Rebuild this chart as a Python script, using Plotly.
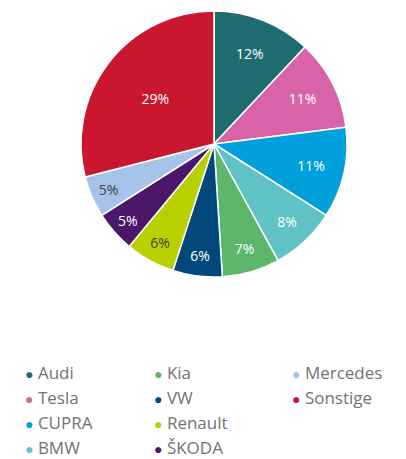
import plotly.graph_objects as go

brands = ["Audi", "Tesla", "CUPRA", "BMW", "Kia", "VW", "Renault", "ŠKODA", "Mercedes", "Sonstige"]
shares = [12, 11, 11, 8, 7, 6, 6, 5, 5, 29]
colors = ["#1f6b72", "#d963a8", "#00a0dc", "#5ec2c6", "#5db76a", "#00497a",
          "#bacf00", "#4b1869", "#a6c4e9", "#c8172f"]
text_colors = ["white", "white", "white", "white", "white", "white",
               "#404040", "white", "#404040", "white"]

legend_cols = [["Audi", "Tesla", "CUPRA", "BMW"],
               ["Kia", "VW", "Renault", "ŠKODA"],
               ["Mercedes", "Sonstige"]]

# page has an 8px body margin; figure is sized to fill the rest of the window
W, H = 398, 451
cx, cy, r = 206, 136, 133

fig = go.Figure()
fig.add_trace(go.Pie(
    labels=brands, values=shares, sort=False, direction="clockwise", rotation=0,
    marker=dict(colors=colors, line=dict(color="white", width=1.5)),
    textinfo="percent", textposition="inside", insidetextorientation="horizontal",
    textfont=dict(family="Open Sans", size=14, color=text_colors),
    showlegend=False, hoverinfo="label+percent",
    domain=dict(x=[(cx - r) / W, (cx + r) / W],
                y=[max(0, 1 - (cy + r) / H), min(1, 1 - (cy - r) / H)]),
))

legend_names = ["legend", "legend2", "legend3"]
for col, lname in zip(legend_cols, legend_names):
    for name in col:
        c = colors[brands.index(name)]
        fig.add_trace(go.Scatter(
            x=[None], y=[None], mode="none",
            name=f"<span style='color:{c};font-size:14px'>●</span> {name}",
            legend=lname, showlegend=True,
        ))

dot_x = [22, 151, 289]
legend_x = [(d - 5 - 40) / W for d in dot_x]
leg_common = dict(orientation="v", yanchor="top", y=1 - 346.5 / H, xanchor="left",
                  font=dict(family="Open Sans", size=17, color="#737373"),
                  bgcolor="rgba(0,0,0,0)", itemwidth=30, tracegroupgap=0)
layout_legends = {}
for lname, lx in zip(legend_names, legend_x):
    layout_legends[lname] = dict(x=lx, **leg_common)

fig.update_layout(
    width=W, height=H, margin=dict(l=0, r=0, t=0, b=0, autoexpand=False),
    paper_bgcolor="white", plot_bgcolor="white",
    xaxis=dict(visible=False), yaxis=dict(visible=False),
    **layout_legends,
)

fig.write_html("out.html")
